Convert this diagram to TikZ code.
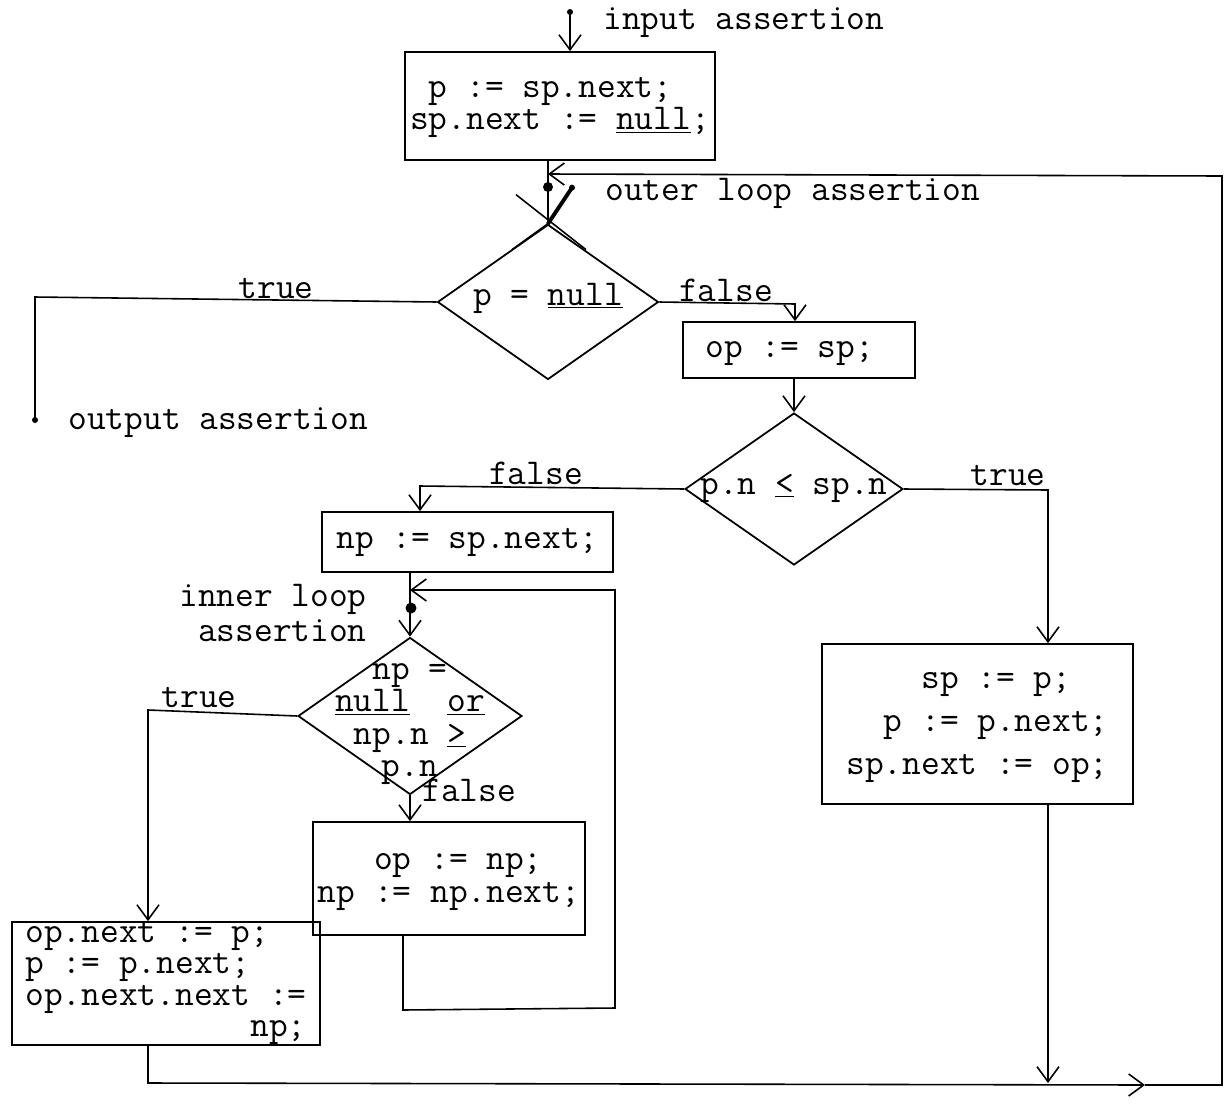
\documentclass[tikz,border=0pt]{standalone}
\usepackage{fontspec}
\usetikzlibrary{shapes.geometric,arrows.meta}
\newcommand\mytt[1]{\ttfamily\fontsize{20.7}{#1}\selectfont\addfontfeature{FakeBold=2}\lineskiplimit-30pt\relax}
\begin{document}
\begin{tikzpicture}[x=0.02cm,y=-0.02cm]
\tikzset{
  tt/.style={font=\mytt{20}},
  box/.style={draw, line width=1pt, rectangle, inner sep=0pt, tt},
  dia/.style={draw, line width=1pt, diamond, inner sep=0pt},
  conn/.style={line width=0.9pt},
  arr/.style={conn, -{Straight Barb[length=0.3cm,width=0.44cm]}},
  lbl/.style={inner sep=0pt, tt},
}
\useasboundingbox (0,0) rectangle (1225,1113);

% boxes
\node[box, minimum width=6.2cm, minimum height=2.16cm, align=left, font=\mytt{18.2}] (A) at (560,106)
  {\phantom{0}p := sp.next;\\sp.next := \underline{null};};
\node[box, minimum width=4.64cm, minimum height=1.12cm] (B) at (799,350) {op := sp;\phantom{0}};
\node[box, minimum width=5.82cm, minimum height=1.2cm] (C) at (467.5,542) {np := sp.next;};
\node[box, minimum width=6.22cm, minimum height=3.2cm, align=left, font=\mytt{24.4}] (D) at (977.5,724)
  {\phantom{0000}sp := p;\\\phantom{00}p := p.next;\\sp.next := op;};
\node[box, minimum width=5.44cm, minimum height=2.26cm, align=left, font=\mytt{18.8}] (E) at (449,878.5)
  {\phantom{000}op := np;\\np := np.next;};
\node[box, minimum width=6.16cm, minimum height=2.46cm, align=left, font=\mytt{17.8}] (F) at (166,983.5)
  {op.next := p;\\p := p.next;\\op.next.next :=\\\phantom{000000000000}np;};

% diamonds
\node[dia, minimum width=4.42cm, minimum height=3.1cm] (D1) at (548,302) {};
\node[lbl] (d1t) at (548,298) {p = \underline{null}};
\node[dia, minimum width=4.36cm, minimum height=3.04cm] (D2) at (794,489) {};
\node[lbl] (d2t) at (794,488) {p.n \underline{<} sp.n};
\node[dia, minimum width=4.48cm, minimum height=3.14cm] (D3) at (410,716) {};
\node[lbl, align=center, font=\mytt{18.4}] (d3t) at (410,724)
  {np =\\\underline{null}\ \ \underline{or}\\np.n \underline{>}\\p.n};

% input
\coordinate (in0) at (570,12);
\fill (in0) circle (0.06cm);
\draw[arr] (in0) -- (in0 |- A.north);
\node[lbl, anchor=base west] (inlab) at (603,29) {input assertion};

% A -> D1 with outer loop assertion mark (crossed arrowhead)
\draw[conn] (A.south -| D1.north) -- (D1.north);
\draw[conn] (D1.north) ++(-32,-29) -- ++(70,55);
\draw[line width=2.2pt, line cap=round] (D1.north) ++(24,-36) -- (D1.north);
\draw[conn] (D1.north) -- ++(-36,26);
\fill (D1.north) ++(24,-36) circle (0.06cm);
\fill (548,187) circle (0.1cm);
\node[lbl, anchor=base west] (outlab) at (605,200) {outer loop assertion};

% D1 true
\coordinate (t1) at (35,297);
\coordinate (oa) at (35,420);
\draw[conn] (D1.west) -- (t1) -- (oa);
\fill (oa) circle (0.06cm);
\node[lbl, anchor=base] (t1lab) at (276,298) {true};
\node[lbl, anchor=base west] (oalab) at (68,429) {output assertion};

% D1 false
\coordinate (f1) at (795,304);
\draw[arr] (D1.east) -- (f1) -- (f1 |- B.north);
\node[lbl, anchor=base] (f1lab) at (726,301) {false};

% B -> D2
\draw[arr] (B.south -| D2.north) -- (D2.north);

% D2 false
\coordinate (f2) at (420,486);
\draw[arr] (D2.west) -- (f2) -- (f2 |- C.north);
\node[lbl, anchor=base] (f2lab) at (536,484) {false};

% D2 true
\coordinate (t2) at (1048,490);
\draw[arr] (D2.east) -- (t2) -- (t2 |- D.north);
\node[lbl, anchor=base] (t2lab) at (1008,485) {true};

% C -> D3 with inner loop assertion
\draw[arr] (C.south -| D3.north) -- (D3.north);
\fill (411,608) circle (0.11cm);
\node[lbl, align=right, anchor=east] (inlp) at (367,613) {inner loop\\assertion};

% D3 false
\draw[arr] (D3.south) -- (D3.south |- E.north);
\node[lbl, anchor=base west] (f3lab) at (422,801) {false};

% D3 true
\coordinate (t3) at (148,710);
\draw[arr] (D3.west) -- (t3) -- (t3 |- F.north);
\node[lbl, anchor=base] (t3lab) at (199,707) {true};

% inner loop back
\coordinate (e1) at (403,1010);
\coordinate (e2) at (615,1008);
\coordinate (e3) at (615,590);
\coordinate (iin) at (410,590);
\draw[arr] (e1 |- E.south) -- (e1) -- (e2) -- (e3) -- (iin);

% outer loop back
\coordinate (bl) at (148,1083);
\coordinate (bm) at (1145,1085);
\coordinate (br) at (1222,1085);
\coordinate (tr) at (1222,176);
\coordinate (oin) at (548,174);
\draw[arr] (t2 |- D.south) -- (t2 |- bl);
\draw[arr] (F.south -| bl) -- (bl) -- (bm);
\draw[arr] (bm) -- (br) -- (tr) -- (oin);
\end{tikzpicture}
\end{document}
